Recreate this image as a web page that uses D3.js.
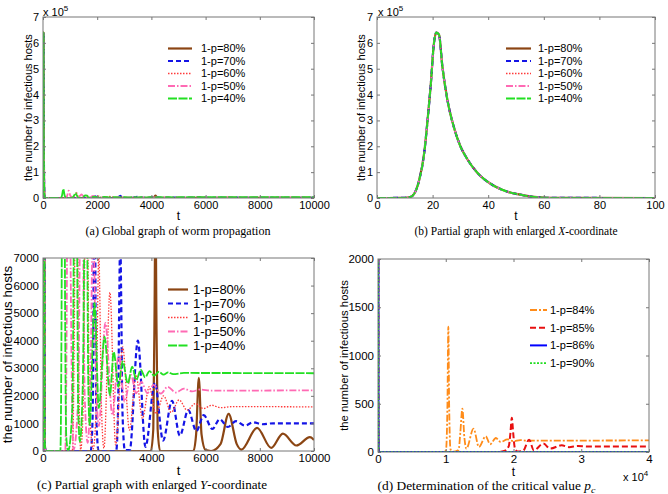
<!DOCTYPE html>
<html>
<head>
<meta charset="utf-8">
<script src="https://cdn.jsdelivr.net/npm/d3@7"></script>
<style>
  body { margin: 0; background: #fff; }
  svg { display: block; font-family: "Liberation Sans", Arial, sans-serif; }
  .cap { font-family: "Liberation Serif", "Times New Roman", serif; }
</style>
</head>
<body>
<svg id="fig" width="668" height="494"></svg>
<script>
// ---- data ----
// first outbreak, identical for every 1-p (t, infectious hosts)
var waveT = [0, 8, 10, 12, 13.3, 15, 17, 18, 19.3, 20.5, 21.3, 22.3, 23.5, 25.3, 27.7, 30, 32.5, 36, 41, 47, 52, 56.5, 61, 70, 100];
var waveI = [0, 200, 800, 4000, 15000, 62000, 176000, 279000, 433000, 600000, 640000, 632000, 510000, 381000, 272000, 200000, 150000, 99000, 54000, 24000, 12000, 4000, 1000, 200, 0];

// later oscillations, panels (a) and (c)
var p80T = [3980, 4070, 4120, 4150, 4180, 4230, 4320, 5550, 5650, 5750, 5850, 6000, 6200, 6550, 6850, 7150, 7320, 7900, 8420, 8850, 9350, 9850, 10000];
var p80I = [0, 800, 5500, 9500, 5500, 800, 0, 0, 600, 2650, 600, 30, 0, 250, 1350, 250, 50, 840, 110, 630, 200, 500, 400];

var p70T = [1760, 1830, 1870, 1900, 1930, 1970, 2050, 2700, 2770, 2820, 2850, 2880, 2930, 3020, 3200, 3500, 3780, 4130, 4430, 4760, 5050, 5360, 5660, 5930, 6250, 6520, 6820, 7120, 7450, 7750, 8100, 8500, 10000];
var p70I = [0, 1200, 7000, 14000, 7000, 1200, 0, 0, 1500, 6000, 8000, 6000, 1500, 30, 30, 4000, 150, 2480, 380, 1820, 560, 1480, 720, 1300, 800, 1150, 870, 1080, 920, 1040, 970, 1005, 1000];

var p60T = [1080, 1160, 1230, 1300, 1390, 1480, 1560, 1600, 1640, 1720, 1850, 1960, 2030, 2060, 2090, 2160, 2250, 2470, 2680, 2940, 3190, 3430, 3670, 3920, 4170, 4450, 4730, 5020, 5320, 5620, 5920, 6230, 6550, 7000, 10000];
var p60I = [0, 5000, 22000, 5000, 50, 1500, 9000, 12000, 9000, 1500, 80, 1500, 6000, 7500, 6000, 1500, 100, 5750, 220, 3780, 760, 2760, 1180, 2330, 1350, 2000, 1400, 1850, 1480, 1720, 1540, 1660, 1570, 1610, 1600];

var p50T = [820, 890, 950, 1010, 1130, 1300, 1380, 1420, 1460, 1540, 1650, 1760, 1820, 1850, 1880, 1950, 2060, 2300, 2560, 2790, 3010, 3250, 3430, 3630, 3850, 4080, 4350, 4600, 4900, 5200, 5500, 5800, 6200, 10000];
var p50I = [0, 8000, 28000, 8000, 50, 2000, 10000, 14000, 10000, 2000, 300, 3000, 7500, 8500, 7500, 3000, 900, 4650, 1300, 3480, 1790, 2760, 2090, 2510, 2100, 2400, 2080, 2330, 2120, 2260, 2160, 2230, 2190, 2200];

var p40T = [640, 700, 750, 800, 860, 930, 1080, 1160, 1200, 1240, 1300, 1360, 1470, 1540, 1580, 1620, 1670, 1720, 1900, 2060, 2270, 2470, 2610, 2780, 2940, 3130, 3290, 3440, 3610, 3770, 3930, 4100, 4270, 4450, 4620, 4800, 5200, 10000];
var p40I = [0, 9000, 35000, 9000, 500, 0, 1500, 12000, 20000, 12000, 1500, 340, 2500, 9000, 10000, 9000, 2500, 940, 5370, 1560, 4150, 2030, 3600, 2330, 3250, 2450, 3060, 2580, 2940, 2670, 2900, 2730, 2870, 2770, 2850, 2790, 2830, 2820];

// panel (d)
var p84T = [9850, 10050, 10250, 10380, 10500, 10700, 11000, 11900, 12150, 12450, 12750, 13050, 14100, 14900, 15900, 16550, 17400, 18100, 19100, 20000, 21000, 22000, 40000];
var p84I = [0, 30, 500, 1300, 500, 30, 0, 20, 200, 450, 150, 35, 242, 52, 163, 80, 145, 104, 131, 112, 124, 118, 120];
var p85T = [17500, 18600, 19300, 19550, 19750, 19950, 20200, 20600, 21400, 22300, 23000, 24400, 25400, 27100, 28200, 29500, 31000, 40000];
var p85I = [0, 10, 60, 200, 356, 200, 40, 5, 10, 128, 17, 87, 35, 69, 50, 62, 57, 58];
var p86T = [40000];
var p86I = [0];
var p90T = [40000];
var p90I = [0];

var labelsABC = ["1-p=80%", "1-p=70%", "1-p=60%", "1-p=50%", "1-p=40%"];
var labelsD = ["1-p=84%", "1-p=85%", "1-p=86%", "1-p=90%"];

var ticksT = [0, 2000, 4000, 6000, 8000, 10000];
var ticksZoomT = [0, 20, 40, 60, 80, 100];
var ticksD = [0, 10000, 20000, 30000, 40000];
var ticksBig = [0, 100000, 200000, 300000, 400000, 500000, 600000, 700000];
var ticksC = [0, 1000, 2000, 3000, 4000, 5000, 6000, 7000];
var ticksDy = [0, 500, 1000, 1500, 2000];

// ---- helpers ----
function pts(T, I) {
  return d3.zip(waveT, waveI).concat(d3.zip(T, I));
}

var st = {
  p80: { color: "#8b4513", w: 2.2, dash: null },
  p70: { color: "#1414e6", w: 2.2, dash: "5,3" },
  p60: { color: "#ff3a3a", w: 1.3, dash: "1.5,1.5" },
  p50: { color: "#ff6ab4", w: 1.8, dash: "7,2,1.5,2" },
  p40: { color: "#22e022", w: 1.8, dash: "9,1.5" },
  p84: { color: "#ff8c1a", w: 1.8, dash: "7,2,2,2" },
  p85: { color: "#e81010", w: 2, dash: "6,3" },
  p86: { color: "#0000ff", w: 2, dash: null },
  p90: { color: "#22dd22", w: 1.6, dash: "2,1.5" }
};

var seriesABC = [
  { name: labelsABC[0], pts: pts(p80T, p80I), st: st.p80 },
  { name: labelsABC[1], pts: pts(p70T, p70I), st: st.p70 },
  { name: labelsABC[2], pts: pts(p60T, p60I), st: st.p60 },
  { name: labelsABC[3], pts: pts(p50T, p50I), st: st.p50 },
  { name: labelsABC[4], pts: pts(p40T, p40I), st: st.p40 }
];
var seriesD = [
  { name: labelsD[0], pts: pts(p84T, p84I), st: st.p84 },
  { name: labelsD[1], pts: pts(p85T, p85I), st: st.p85 },
  { name: labelsD[2], pts: pts(p86T, p86I), st: st.p86 },
  { name: labelsD[3], pts: pts(p90T, p90I), st: st.p90 }
];

var svg = d3.select("#fig");

function drawPanel(c) {
  var x0 = c.box[0], y0 = c.box[1], x1 = c.box[2], y1 = c.box[3];
  var x = d3.scaleLinear().domain(c.xDomain).range([x0, x1]);
  var y = d3.scaleLinear().domain(c.yDomain).range([y1, y0]);
  var g = svg.append("g");

  g.append("clipPath").attr("id", "clip-" + c.id)
    .append("rect").attr("x", x0).attr("y", y0).attr("width", x1 - x0).attr("height", y1 - y0);

  var line = d3.line().x(function(d) { return x(d[0]); }).y(function(d) { return y(d[1]); })
    .curve(d3.curveMonotoneX);

  var plot = g.append("g").attr("clip-path", "url(#clip-" + c.id + ")");
  c.series.forEach(function(s) {
    plot.append("path")
      .attr("d", line(s.pts))
      .attr("fill", "none")
      .attr("stroke", s.st.color)
      .attr("stroke-width", s.st.w)
      .attr("stroke-dasharray", s.st.dash);
  });

  // axes, MATLAB style: ticks inside on all four sides
  function ax(gen, tr) {
    var a = g.append("g").attr("transform", tr).call(gen);
    a.select(".domain").remove();
    a.selectAll("line").attr("stroke", "#777");
    a.selectAll("text").attr("fill", "#000").style("font-size", c.tickFs + "px")
      .style("font-family", '"Liberation Sans", Arial, sans-serif');
    return a;
  }
  ax(d3.axisBottom(x).tickValues(c.xTicks).tickSize(-3).tickPadding(3).tickFormat(c.xFmt), "translate(0," + y1 + ")");
  ax(d3.axisTop(x).tickValues(c.xTicks).tickSize(-3).tickFormat(""), "translate(0," + y0 + ")");
  ax(d3.axisLeft(y).tickValues(c.yTicks).tickSize(-3).tickPadding(4).tickFormat(c.yFmt), "translate(" + x0 + ",0)");
  ax(d3.axisRight(y).tickValues(c.yTicks).tickSize(-3).tickFormat(""), "translate(" + x1 + ",0)");

  g.append("rect").attr("x", x0).attr("y", y0).attr("width", x1 - x0).attr("height", y1 - y0)
    .attr("fill", "none").attr("stroke", "#777").attr("stroke-width", 1);

  // exponent note
  if (c.expo) {
    var e = g.append("text").attr("x", c.expo.x).attr("y", c.expo.y).style("font-size", "11px").text(c.expo.text);
    e.append("tspan").attr("dy", -5).style("font-size", "8px").text(c.expo.sup);
  }

  // axis labels
  g.append("text").attr("x", (x0 + x1) / 2).attr("y", c.tY)
    .attr("text-anchor", "middle").style("font-size", c.labFs + "px").text("t");
  g.append("text")
    .attr("transform", "translate(" + c.yLab.x + "," + ((y0 + y1) / 2) + ") rotate(-90)")
    .attr("text-anchor", "middle").style("font-size", c.yLab.fs + "px").text(c.yLab.text);

  // legend
  var lg = g.append("g");
  c.series.forEach(function(s, i) {
    var ly = c.legend.y + i * c.legend.dy;
    lg.append("line").attr("x1", c.legend.x1).attr("x2", c.legend.x2).attr("y1", ly).attr("y2", ly)
      .attr("stroke", s.st.color).attr("stroke-width", s.st.w).attr("stroke-dasharray", s.st.dash);
    lg.append("text").attr("x", c.legend.tx).attr("y", ly).attr("dy", "0.35em")
      .style("font-size", c.legend.fs + "px").text(s.name);
  });

  // caption
  var cap = g.append("text").attr("class", "cap").attr("x", c.cap.x).attr("y", c.cap.y)
    .attr("text-anchor", "middle").style("font-size", c.cap.fs + "px")
    .attr("textLength", c.cap.len).attr("lengthAdjust", "spacingAndGlyphs");
  c.cap.parts.forEach(function(p) {
    var t = cap.append("tspan").text(p.t);
    if (p.it) t.style("font-style", "italic");
    if (p.sub) t.attr("dy", 3).style("font-size", (c.cap.fs - 3) + "px");
  });
}

var fmtBig = function(d) { return d / 100000; };
var fmtD = function(d) { return d / 10000; };

drawPanel({
  id: "a", box: [43, 17, 314, 198], xDomain: [0, 10000], yDomain: [0, 700000],
  xTicks: ticksT, yTicks: ticksBig, xFmt: d3.format("d"), yFmt: fmtBig, tickFs: 11, labFs: 12,
  series: seriesABC, expo: { x: 43, y: 16, text: "x 10", sup: "5" },
  tY: 220, yLab: { x: 32, fs: 11, text: "the number fo infectious hosts" },
  legend: { x1: 168, x2: 192, tx: 201, y: 48.5, dy: 12.5, fs: 11 },
  cap: { x: 178, y: 235, fs: 11.5, len: 185, parts: [{ t: "(a) Global graph of worm propagation" }] }
});

drawPanel({
  id: "b", box: [377, 17, 655, 198], xDomain: [0, 100], yDomain: [0, 700000],
  xTicks: ticksZoomT, yTicks: ticksBig, xFmt: d3.format("d"), yFmt: fmtBig, tickFs: 11, labFs: 12,
  series: seriesABC, expo: { x: 378, y: 16, text: "x 10", sup: "5" },
  tY: 220, yLab: { x: 365, fs: 11, text: "the number of infectious hosts" },
  legend: { x1: 506, x2: 531, tx: 538, y: 48.5, dy: 12.5, fs: 11 },
  cap: { x: 516, y: 235, fs: 11.5, len: 203,
    parts: [{ t: "(b) Partial graph with enlarged " }, { t: "X", it: true }, { t: "-coordinate" }] }
});

drawPanel({
  id: "c", box: [43, 258, 314, 451], xDomain: [0, 10000], yDomain: [0, 7000],
  xTicks: ticksT, yTicks: ticksC, xFmt: d3.format("d"), yFmt: d3.format("d"), tickFs: 11.5, labFs: 13,
  series: seriesABC, expo: null,
  tY: 475, yLab: { x: 12, fs: 13.3, text: "the number of infectious hosts" },
  legend: { x1: 168, x2: 188, tx: 193, y: 289.5, dy: 14, fs: 13 },
  cap: { x: 152, y: 489, fs: 13, len: 230,
    parts: [{ t: "(c) Partial graph with enlarged " }, { t: "Y", it: true }, { t: "-coordinate" }] }
});

drawPanel({
  id: "d", box: [378, 259, 649, 452], xDomain: [0, 40000], yDomain: [0, 2000],
  xTicks: ticksD, yTicks: ticksDy, xFmt: fmtD, yFmt: d3.format("d"), tickFs: 11.5, labFs: 12,
  series: seriesD, expo: { x: 623, y: 481, text: "x 10", sup: "4" },
  tY: 476, yLab: { x: 348, fs: 11.3, text: "the number of infectious hosts" },
  legend: { x1: 530, x2: 547, tx: 550, y: 310, dy: 17.7, fs: 11 },
  cap: { x: 486.5, y: 490, fs: 12, len: 218,
    parts: [{ t: "(d) Determination of the critical value " }, { t: "p", it: true }, { t: "c", it: true, sub: true }] }
});
</script>
</body>
</html>
